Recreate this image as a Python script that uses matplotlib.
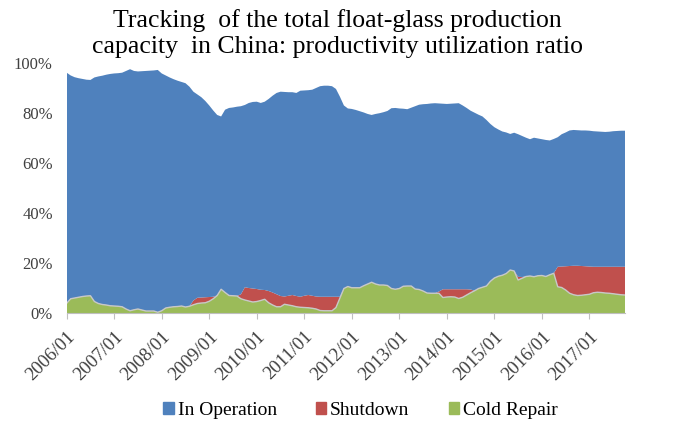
import numpy as np
import matplotlib
matplotlib.use("Agg")
import matplotlib.pyplot as plt
from matplotlib.patches import Patch

plt.rcParams['font.family'] = ['Liberation Serif', 'DejaVu Serif']

# monthly shares of capacity (%), 2006/01 .. 2017/10
cold_repair = [
    3.9, 5.7, 6.0, 6.3, 6.6, 6.8, 6.9, 4.6, 3.8, 3.4, 3.2, 2.9,
    2.8, 2.7, 2.5, 1.6, 0.9, 1.3, 1.6, 1.2, 0.8, 0.8, 0.8, 0.3,
    0.9, 2.0, 2.3, 2.5, 2.6, 2.8, 2.4, 2.7, 3.3, 3.8, 4.0, 4.1,
    4.7, 5.7, 7.0, 9.5, 8.2, 7.0, 6.9, 6.8, 5.7, 5.2, 4.8, 4.4,
    4.6, 5.0, 5.5, 4.1, 3.2, 2.5, 2.5, 3.5, 3.2, 2.9, 2.5, 2.3,
    2.2, 2.1, 1.9, 1.6, 1.0, 0.9, 0.9, 0.9, 2.2, 6.0, 9.8, 10.6,
    10.1, 10.1, 10.1, 10.9, 11.6, 12.3, 11.6, 11.2, 11.2, 11.0, 9.8, 9.5,
    9.8, 10.7, 10.8, 10.8, 9.6, 9.4, 8.8, 8.0, 7.9, 7.9, 7.9, 6.2,
    6.4, 6.5, 6.4, 5.8, 6.3, 7.2, 8.1, 8.9, 9.8, 10.3, 10.8, 12.7,
    14.0, 14.7, 15.1, 15.8, 17.2, 16.8, 13.2, 13.9, 14.6, 14.8, 14.5, 14.9,
    15.0, 14.6, 15.3, 15.9, 10.5, 10.2, 9.2, 7.9, 7.3, 7.0, 7.1, 7.3,
    7.5, 8.1, 8.3, 8.2, 8.0, 7.9, 7.7, 7.5, 7.3, 7.2,
]
shutdown = [
    0, 0, 0, 0, 0, 0, 0, 0, 0, 0, 0, 0,
    0, 0, 0, 0, 0, 0, 0, 0, 0, 0, 0, 0,
    0, 0, 0, 0, 0, 0, 0, 0, 1.7, 2.3, 2.2, 2.2,
    1.7, 0.8, 0, 0, 0, 0, 0, 0, 1.8, 5.1, 5.2, 5.4,
    5.0, 4.3, 3.7, 4.7, 5.0, 5.0, 4.3, 3.1, 3.7, 4.3, 4.3, 4.2,
    4.7, 5.1, 5.0, 5.0, 5.5, 5.6, 5.6, 5.6, 4.3, 0.5, 0, 0,
    0, 0, 0, 0, 0, 0, 0, 0, 0, 0, 0, 0,
    0, 0, 0, 0, 0, 0, 0, 0, 0, 0, 0.7, 3.3,
    3.1, 3.0, 3.1, 3.7, 3.2, 2.3, 1.3, 0, 0, 0, 0, 0,
    0, 0, 0, 0, 0, 0, 1.3, 0.5, 0, 0, 0, 0,
    0, 0, 0, 0, 8.0, 8.4, 9.5, 10.9, 11.6, 11.9, 11.7, 11.4,
    11.1, 10.4, 10.2, 10.3, 10.5, 10.6, 10.8, 11.0, 11.2, 11.3,
]
in_operation = [
    92.2, 89.3, 88.3, 87.6, 87.0, 86.5, 86.3, 89.6, 90.8, 91.5, 92.1, 92.7,
    93.0, 93.2, 93.6, 95.2, 96.6, 95.5, 95.0, 95.5, 96.0, 96.1, 96.2, 96.9,
    94.9, 93.0, 91.9, 91.0, 90.3, 89.6, 89.5, 87.8, 83.5, 81.3, 80.1, 78.5,
    76.6, 74.5, 72.2, 69.1, 73.1, 75.0, 75.3, 75.7, 75.2, 72.9, 74.0, 74.6,
    74.9, 74.7, 75.3, 76.8, 78.7, 80.5, 81.7, 81.8, 81.4, 81.1, 81.2, 82.4,
    82.1, 81.9, 82.4, 83.4, 84.2, 84.4, 84.4, 84.2, 83.1, 80.0, 73.2, 71.2,
    71.5, 71.1, 70.6, 69.3, 68.0, 66.9, 68.0, 68.7, 69.1, 69.8, 72.1, 72.5,
    72.0, 71.0, 70.7, 71.3, 73.1, 73.9, 74.7, 75.6, 75.9, 76.0, 75.2, 74.2,
    74.1, 74.2, 74.3, 74.4, 73.5, 72.5, 71.5, 71.2, 69.5, 68.3, 66.4, 62.9,
    60.3, 58.7, 57.5, 56.4, 54.4, 55.3, 57.0, 56.4, 55.5, 54.7, 55.6, 54.9,
    54.5, 54.6, 53.7, 53.7, 51.8, 52.9, 53.5, 54.2, 54.3, 54.2, 54.2, 54.3,
    54.3, 54.2, 54.1, 54.0, 53.9, 54.0, 54.2, 54.3, 54.4, 54.4,
]
year_labels = ['2006/01', '2007/01', '2008/01', '2009/01', '2010/01', '2011/01',
               '2012/01', '2013/01', '2014/01', '2015/01', '2016/01', '2017/01']

blue, red, green = '#4F81BD', '#C0504D', '#9BBB59'

months = np.arange(len(cold_repair))
cold = np.array(cold_repair) / 100
shut = np.array(shutdown) / 100
oper = np.array(in_operation) / 100

fig = plt.figure(figsize=(6.75, 4.21), dpi=100)
ax = fig.add_axes([0.0988, 0.2565, 0.8272, 0.594])

ax.stackplot(months, cold, shut, oper, colors=[green, red, blue], linewidth=0)
ax.plot(months, cold, color='#C8C8C8', lw=1.0)

ax.set_xlim(0, len(months) - 1)
ax.set_ylim(0, 1)
ax.set_yticks(np.arange(0, 1.01, 0.2))
ax.set_yticklabels([f'{int(round(v * 100))}%' for v in np.arange(0, 1.01, 0.2)])
ax.set_xticks(np.arange(0, len(months), 12))
ax.set_xticklabels(year_labels, rotation=45, ha='right', rotation_mode='anchor')

for s in ['top', 'right', 'left']:
    ax.spines[s].set_visible(False)
ax.spines['bottom'].set_color('#BFBFBF')
ax.tick_params(axis='y', length=0, pad=10, labelsize=12, labelcolor='#404040')
ax.tick_params(axis='x', length=4, color='#BFBFBF', pad=7, labelsize=13.5, labelcolor='#404040')

fig.text(0.5, 0.978, 'Tracking  of the total float-glass production\ncapacity  in China: productivity utilization ratio',
         fontsize=18.5, ha='center', va='top', linespacing=1.2)

handles = [Patch(color=blue), Patch(color=red), Patch(color=green)]
fig.legend(handles, ['In Operation', 'Shutdown', 'Cold Repair'], loc='center',
           bbox_to_anchor=(0.534, 0.025), ncol=3, frameon=False, fontsize=14,
           handlelength=0.55, handleheight=0.55, handletextpad=0.2, columnspacing=2.0)

fig.savefig('out.png', dpi=100)
